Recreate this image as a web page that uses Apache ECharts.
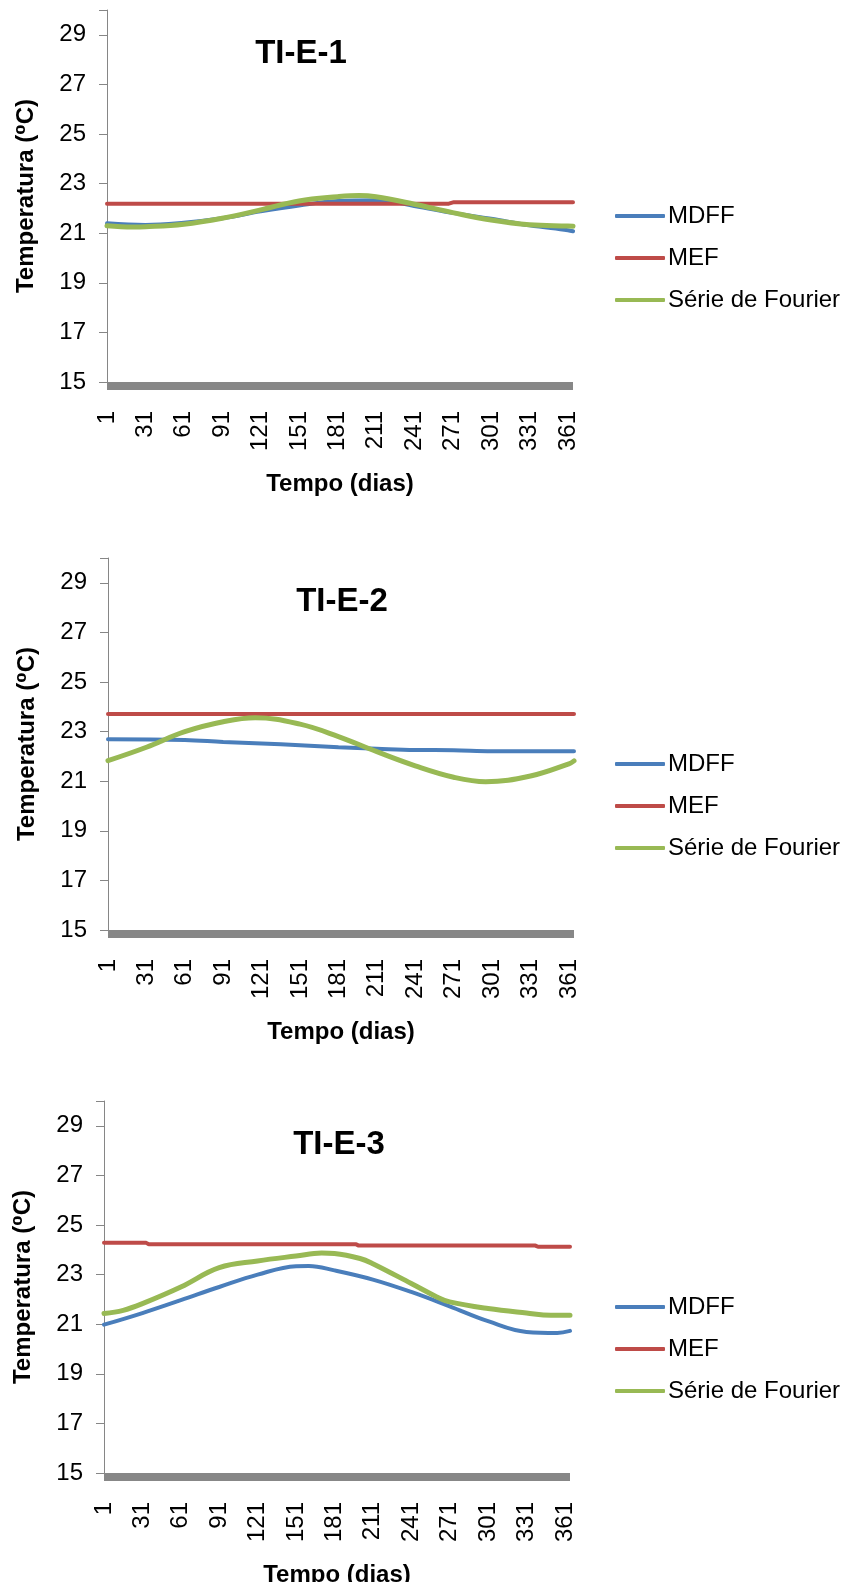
<!DOCTYPE html>
<html lang="pt">
<head>
    <meta charset="UTF-8">
    <title>Temperatura TI-E-1, TI-E-2, TI-E-3</title>
</head>
<script src="https://cdn.jsdelivr.net/npm/echarts@6/dist/echarts.min.js"></script>
<body style="margin:0;background:#fff">
<div id="main" style="height: 1582px;width: 844px"></div>
<script type="text/javascript">
    // eixo x: dias do ano
    var dias = []
    for (var d = 1; d <= 365; d++) dias.push(String(d))

    var titulos = ['TI-E-1', 'TI-E-2', 'TI-E-3']
    var nomes = ['MDFF', 'MEF', 'Série de Fourier']

    // TI-E-1
    var mdff1Dias = [1, 31, 61, 91, 121, 151, 181, 211, 241, 271, 301, 331, 361, 365]
    var mdff1 = [21.4, 21.33, 21.42, 21.6, 21.88, 22.12, 22.3, 22.33, 22.1, 21.82, 21.58, 21.32, 21.12, 21.08]
    var mef1Dias = [1, 268, 272, 365]
    var mef1 = [22.19, 22.19, 22.25, 22.25]
    var fourier1Dias = [1, 21, 31, 61, 91, 121, 151, 181, 198, 211, 241, 271, 301, 331, 361, 365]
    var fourier1 = [21.3, 21.25, 21.26, 21.36, 21.6, 21.94, 22.3, 22.47, 22.52, 22.47, 22.17, 21.83, 21.53, 21.34, 21.29, 21.28]

    // TI-E-2
    var mdff2Dias = [1, 61, 91, 121, 151, 181, 211, 241, 271, 301, 331, 365]
    var mdff2 = [22.69, 22.66, 22.58, 22.52, 22.45, 22.37, 22.31, 22.26, 22.25, 22.21, 22.21, 22.21]
    var mef2Dias = [1, 365]
    var mef2 = [23.71, 23.71]
    var fourier2Dias = [1, 31, 61, 91, 116, 151, 181, 211, 241, 271, 296, 331, 361, 365]
    var fourier2 = [21.83, 22.37, 23.0, 23.4, 23.56, 23.3, 22.8, 22.19, 21.62, 21.16, 20.98, 21.21, 21.7, 21.82]

    // TI-E-3
    var mdff3Dias = [1, 31, 61, 91, 121, 151, 161, 181, 211, 241, 271, 301, 331, 355, 365]
    var mdff3 = [20.98, 21.45, 21.97, 22.5, 23.0, 23.34, 23.35, 23.17, 22.8, 22.3, 21.72, 21.12, 20.69, 20.65, 20.73]
    var mef3Dias = [1, 34, 36, 198, 200, 338, 340, 365]
    var mef3 = [24.28, 24.28, 24.22, 24.22, 24.17, 24.17, 24.12, 24.12]
    var fourier3Dias = [1, 16, 31, 61, 91, 121, 151, 171, 181, 201, 211, 241, 261, 271, 301, 331, 350, 365]
    var fourier3 = [21.43, 21.56, 21.83, 22.5, 23.28, 23.55, 23.75, 23.87, 23.85, 23.65, 23.44, 22.64, 22.1, 21.9, 21.63, 21.45, 21.36, 21.36]

    var paineis = [
        [[mdff1Dias, mdff1], [mef1Dias, mef1], [fourier1Dias, fourier1]],
        [[mdff2Dias, mdff2], [mef2Dias, mef2], [fourier2Dias, fourier2]],
        [[mdff3Dias, mdff3], [mef3Dias, mef3], [fourier3Dias, fourier3]]
    ]

    var cores = ['#4A7EBB', '#BE4B48', '#98B954']
    var larguras = [4, 4, 5]
    var suave = [0.4, false, 0.4]
    var topo = [0, 548, 1091]
    var esquerda = [107, 108, 104]
    var centroTitulo = [296, 337, 334]
    var fonte = 'Arial, "Liberation Sans", "DejaVu Sans", sans-serif'

    function pares(dd, vv) {
        return dd.map(function (x, i) { return [String(x), vv[i]] })
    }

    var option = {
        animation: false,
        backgroundColor: '#fff',
        title: [], legend: [], grid: [], xAxis: [], yAxis: [], series: []
    }

    for (var p = 0; p < 3; p++) {
        var o = topo[p]
        option.title.push({
            text: titulos[p],
            left: centroTitulo[p],
            top: o + 32,
            textAlign: 'center',
            textStyle: {fontSize: 33, fontWeight: 'bold', color: '#000', fontFamily: fonte}
        })
        option.legend.push({
            data: nomes,
            orient: 'vertical',
            left: 610,
            top: o + 199,
            icon: 'roundRect',
            itemWidth: 50,
            itemHeight: 4,
            itemGap: 18,
            selectedMode: false,
            textStyle: {fontSize: 24, color: '#000', fontFamily: fonte, lineHeight: 24, padding: [0, 0, 0, -2]}
        })
        // outerBoundsMode none: keep the grid size even if the last axis name is cut
        option.grid.push({left: esquerda[p], top: o + 10, width: 466, height: 372, containLabel: false, outerBoundsMode: 'none'})
        option.xAxis.push({
            type: 'category',
            gridIndex: p,
            data: dias,
            boundaryGap: false,
            offset: 4,
            name: 'Tempo (dias)',
            nameLocation: 'middle',
            nameGap: 86,
            nameTextStyle: {fontSize: 24, fontWeight: 'bold', color: '#000', fontFamily: fonte},
            axisLine: {lineStyle: {color: '#878787', width: 8, cap: 'butt'}},
            axisTick: {show: false},
            axisLabel: {interval: 29, rotate: 90, margin: 25, fontSize: 24, color: '#000', fontFamily: fonte},
            splitLine: {show: false}
        })
        option.yAxis.push({
            type: 'value',
            gridIndex: p,
            min: 15,
            max: 30,
            interval: 2,
            name: 'Temperatura (⁰C)',
            nameLocation: 'middle',
            nameRotate: 90,
            nameGap: 69,
            nameTextStyle: {fontSize: 24, fontWeight: 'bold', color: '#000', fontFamily: fonte},
            axisLine: {show: true, lineStyle: {color: '#868686', width: 1}},
            axisTick: {show: true, length: 8, lineStyle: {color: '#868686'}},
            axisLabel: {
                margin: 21, fontSize: 24, color: '#000', fontFamily: fonte,
                formatter: function (v) { return v > 29.5 ? '' : v }
            },
            splitLine: {show: false}
        })
        for (var s = 0; s < 3; s++) {
            option.series.push({
                name: nomes[s],
                type: 'line',
                xAxisIndex: p,
                yAxisIndex: p,
                data: pares(paineis[p][s][0], paineis[p][s][1]),
                smooth: suave[s],
                showSymbol: false,
                color: cores[s],
                lineStyle: {color: cores[s], width: larguras[s], cap: 'round'}
            })
        }
    }

    var myChart = echarts.init(document.getElementById('main'))
    myChart.setOption(option)
</script>
</body>
</html>
